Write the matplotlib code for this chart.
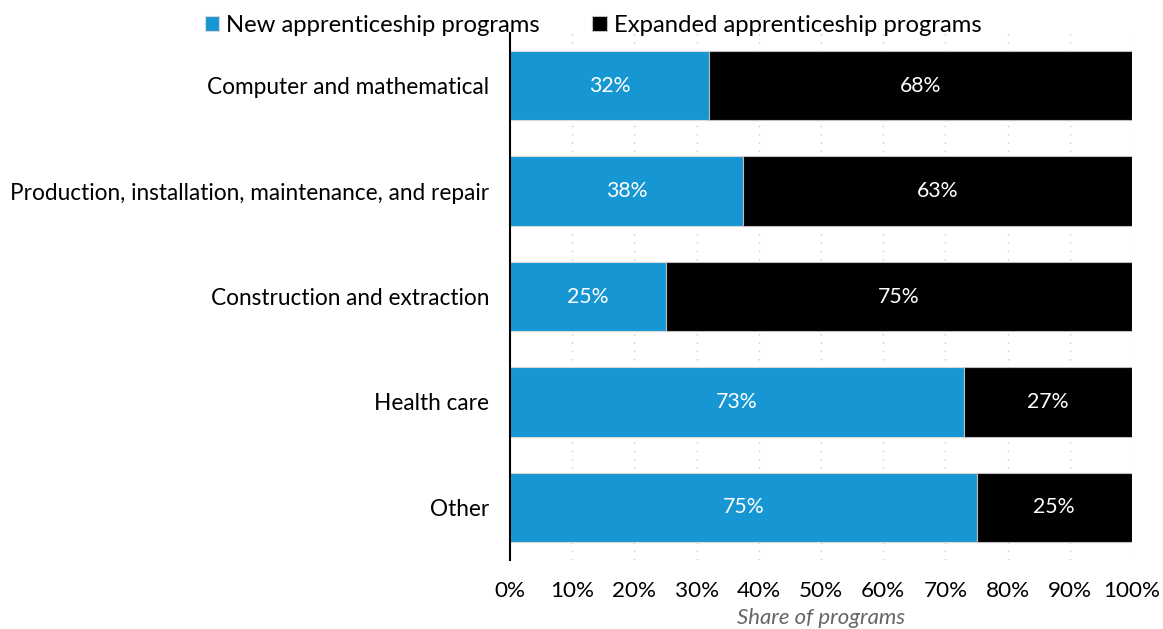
import matplotlib
matplotlib.use("Agg")
import matplotlib.pyplot as plt
from matplotlib.ticker import MultipleLocator, FuncFormatter

plt.rcParams['font.family'] = ['Lato', 'DejaVu Sans']

categories = ['Computer and mathematical',
              'Production, installation, maintenance, and repair',
              'Construction and extraction',
              'Health care',
              'Other']
new_share = [32, 37.5, 25, 73, 75]
expanded_share = [68, 62.5, 75, 27, 25]

blue = '#1696d2'
black = '#000000'

fig = plt.figure(figsize=(11.63, 6.29), dpi=100)
ax = fig.add_axes([510 / 1163, 1 - 560 / 629, 622 / 1163, 527 / 629])

pos = list(range(len(categories)))
ax.barh(pos, new_share, height=0.66, color=blue, edgecolor='#d9d9d9',
        linewidth=0.8, label='New apprenticeship programs', zorder=3)
ax.barh(pos, expanded_share, left=new_share, height=0.66, color=black,
        edgecolor='#bdbdbd', linewidth=0.8,
        label='Expanded apprenticeship programs', zorder=3)

# percent labels in the middle of each segment (round half up)
for i in pos:
    n, e = new_share[i], expanded_share[i]
    ax.text(n / 2, i, '%d%%' % int(n + 0.5), color='white', fontsize=15.3,
            ha='center', va='center', zorder=4)
    ax.text(n + e / 2, i, '%d%%' % int(e + 0.5), color='white', fontsize=15.3,
            ha='center', va='center', zorder=4)

ax.set_xlim(0, 100)
ax.set_ylim(4.5, -0.5)
ax.set_yticks(pos)
ax.set_yticklabels(categories, fontsize=16.3)
ax.xaxis.set_major_locator(MultipleLocator(10))
ax.xaxis.set_major_formatter(FuncFormatter(lambda v, p: '%d%%' % v))
ax.tick_params(axis='x', labelsize=16.2, length=0, pad=15)
ax.tick_params(axis='y', length=0, pad=15)
ax.grid(axis='x', color='#c8c8c8', linestyle=(0, (1, 5)), linewidth=1, zorder=0)

for s in ['top', 'right', 'bottom']:
    ax.spines[s].set_visible(False)
ax.spines['left'].set_color('black')
ax.spines['left'].set_linewidth(1.5)
ax.spines['left'].set_zorder(5)

ax.set_xlabel('Share of programs', fontsize=15.9, style='italic', color='#666666',
              labelpad=5.5)

fig.legend(loc='upper center', bbox_to_anchor=(0.510, 1.01), ncol=2,
           frameon=False, fontsize=17.2, handlelength=0.6, handleheight=0.6,
           handletextpad=0.3, columnspacing=2.2)

fig.savefig('out.png', dpi=100)
